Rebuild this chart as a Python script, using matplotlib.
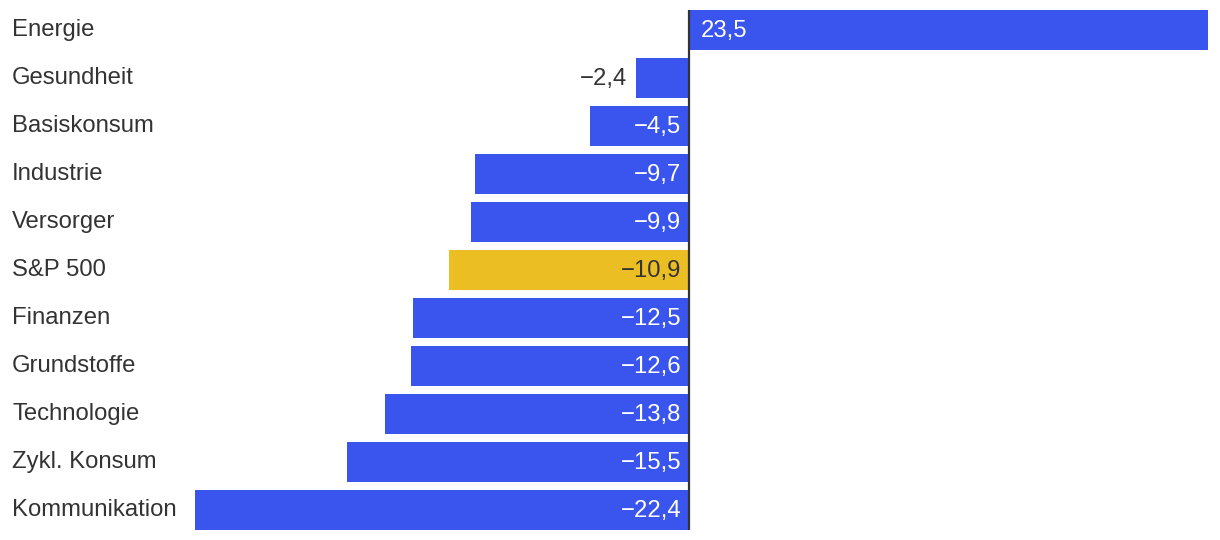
import matplotlib
matplotlib.use("Agg")
import matplotlib.pyplot as plt
from matplotlib.transforms import offset_copy, blended_transform_factory

categories = ["Energie", "Gesundheit", "Basiskonsum", "Industrie", "Versorger", "S&P 500",
              "Finanzen", "Grundstoffe", "Technologie", "Zykl. Konsum", "Kommunikation"]
values = [23.5, -2.4, -4.5, -9.7, -9.9, -10.9, -12.5, -12.6, -13.8, -15.5, -22.4]
highlight = "S&P 500"

BLUE = "#3A55EE"
YELLOW = "#EBBE24"
DARK = "#333333"
FS = 17.2

plt.rcParams['font.family'] = ['Liberation Sans', 'DejaVu Sans']

W, H = 1220, 540
fig = plt.figure(figsize=(W / 100, H / 100), dpi=100)
ax = fig.add_axes([195 / W, 1 - 530 / H, (1208 - 195) / W, (530 - 10) / H])

n = len(categories)
ys = list(range(n))
colors = [YELLOW if c == highlight else BLUE for c in categories]
ax.barh(ys, values, height=40 / 48, color=colors, zorder=2)
ax.set_xlim(-22.4, 23.5)
ax.set_ylim(n - 1 + 0.5 * 40 / 48, -0.5 * 40 / 48)
ax.axvline(0, color=DARK, lw=1.6, zorder=3)
for s in ax.spines.values():
    s.set_visible(False)
ax.set_xticks([])
ax.set_yticks([])

def fmt(v):
    s = f"{abs(v):.1f}".replace(".", ",")
    return ("\u2212" if v < 0 else "") + s

label_tr = blended_transform_factory(fig.transFigure, ax.transData)
for y, c, v in zip(ys, categories, values):
    ax.text(12 / W, y, c, transform=label_tr, ha="left", va="center", fontsize=FS, color=DARK)
    label = fmt(v)
    if v > 0:
        tr = offset_copy(ax.transData, fig=fig, x=11, y=-1, units="dots")
        ax.text(0, y, label, transform=tr, ha="left", va="center", fontsize=FS, color="white", zorder=4)
    elif abs(v) < 3:
        tr = offset_copy(ax.transData, fig=fig, x=-9, y=-1, units="dots")
        ax.text(v, y, label, transform=tr, ha="right", va="center", fontsize=FS, color=DARK, zorder=4)
    else:
        tr = offset_copy(ax.transData, fig=fig, x=-8, y=-1, units="dots")
        col = DARK if c == highlight else "white"
        ax.text(0, y, label, transform=tr, ha="right", va="center", fontsize=FS, color=col, zorder=4)

fig.savefig("out.png", dpi=100, facecolor="white")
